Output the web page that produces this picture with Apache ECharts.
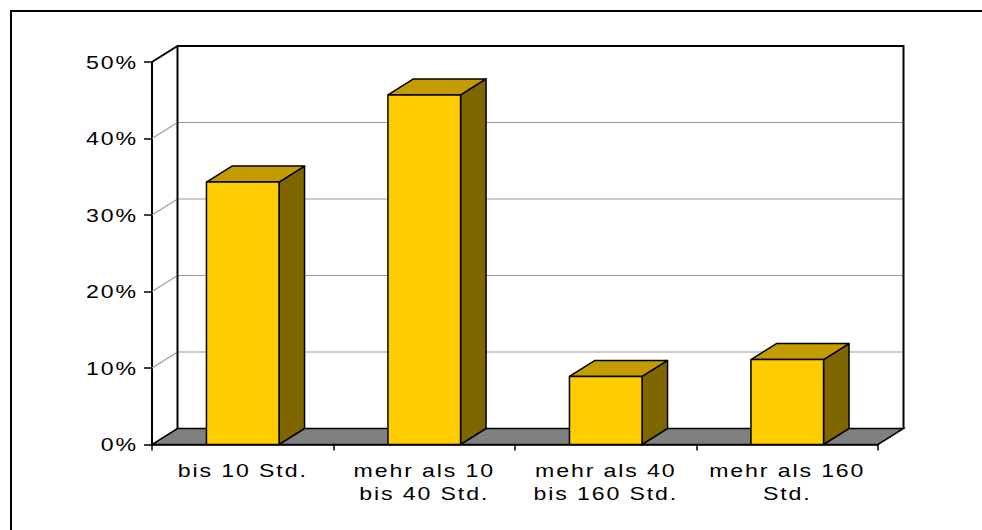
<!DOCTYPE html>
<html>
<head>
<meta charset="utf-8">
<script src="https://cdn.jsdelivr.net/npm/echarts@6/dist/echarts.min.js"></script>
<style>
  html, body { margin: 0; padding: 0; background: #ffffff; }
  #chart { width: 982px; height: 530px; }
  #chart text { letter-spacing: 1.5px; }
</style>
</head>
<body>
<div id="chart"></div>
<script>
// ---- data ----
const categories = ['bis 10 Std.', 'mehr als 10\nbis 40 Std.', 'mehr als 40\nbis 160 Std.', 'mehr als 160\nStd.'];
const shares = [34.3, 45.7, 8.9, 11.1];
const yTicks = [0, 10, 20, 30, 40, 50];

// ---- 3D look (style constants) ----
const DX = 25.5, DY = -16;
const BAR_RATIO = 0.4;
const FRONT = '#FFCC00', TOP = '#C49C00', SIDE = '#806600';
const LABEL_FONT = '18.5px "Liberation Sans", Arial, sans-serif';
const STRETCH = 1.25;

const chart = echarts.init(document.getElementById('chart'), null, { renderer: 'svg' });

function wallsItem(params, api) {
  const v = api.value(1);
  const cs = params.coordSys;
  const x0 = cs.x, x1 = cs.x + cs.width;
  const y = api.coord([0, v])[1];
  const yb = api.coord([0, 0])[1];
  const children = [];
  if (v === 0) {
    children.push({
      type: 'polygon',
      shape: { points: [[x0, yb], [x1, yb], [x1 + DX, yb + DY], [x0 + DX, yb + DY]] },
      style: { fill: '#808080', stroke: '#000', lineWidth: 1.5 }
    });
  } else if (v === 50) {
    children.push({
      type: 'polyline',
      shape: { points: [[x0, y], [x0 + DX, y + DY], [x1 + DX, y + DY], [x1 + DX, yb + DY]] },
      style: { fill: null, stroke: '#000', lineWidth: 2 }
    });
    children.push({
      type: 'line',
      shape: { x1: x0 + DX, y1: y + DY, x2: x0 + DX, y2: yb + DY },
      style: { stroke: '#000', lineWidth: 2 }
    });
  } else {
    children.push({
      type: 'polyline',
      shape: { points: [[x0, y], [x0 + DX, y + DY], [x1 + DX, y + DY]] },
      style: { fill: null, stroke: '#9a9a9a', lineWidth: 1.2 }
    });
  }
  // y-axis tick label (horizontally stretched like the original)
  children.push({
    type: 'text',
    x: x0 - 14, y: y, scaleX: STRETCH,
    style: { text: v + '%', x: 0, y: 0, align: 'right', verticalAlign: 'middle', font: LABEL_FONT, fill: '#000' }
  });
  return { type: 'group', children: children };
}

function catLabelItem(params, api) {
  const idx = api.value(0);
  const p = api.coord([idx, 0]);
  return {
    type: 'text',
    x: p[0], y: p[1] + 14, scaleX: STRETCH,
    style: { text: categories[idx], x: 0, y: 0, align: 'center', verticalAlign: 'top',
             font: LABEL_FONT, lineHeight: 23, fill: '#000' }
  };
}

function barItem(params, api) {
  const idx = api.value(0);
  const top = api.coord([idx, api.value(1)]);
  const base = api.coord([idx, 0]);
  const w = api.size([1, 0])[0] * BAR_RATIO;
  const xl = top[0] - w / 2, xr = top[0] + w / 2;
  const yt = top[1], yb = base[1];
  const st = { stroke: '#000', lineWidth: 1.5, lineJoin: 'round' };
  return {
    type: 'group',
    children: [
      { type: 'polygon', shape: { points: [[xr, yt], [xr + DX, yt + DY], [xr + DX, yb + DY], [xr, yb]] },
        style: Object.assign({ fill: SIDE }, st) },
      { type: 'polygon', shape: { points: [[xl, yt], [xr, yt], [xr + DX, yt + DY], [xl + DX, yt + DY]] },
        style: Object.assign({ fill: TOP }, st) },
      { type: 'rect', shape: { x: xl, y: yt, width: w, height: yb - yt },
        style: Object.assign({ fill: FRONT }, st) }
    ]
  };
}

chart.setOption({
  animation: false,
  backgroundColor: '#ffffff',
  graphic: [{
    type: 'polyline',
    shape: { points: [[11, 540], [11, 11], [990, 11]] },
    style: { fill: null, stroke: '#000', lineWidth: 2 },
    z: 100
  }],
  grid: { left: 152, top: 62, right: 104, bottom: 85.5 },
  xAxis: {
    type: 'category',
    data: categories,
    boundaryGap: true,
    axisLine: { show: true, lineStyle: { color: '#000', width: 1.5 } },
    axisTick: { show: true, length: 6, lineStyle: { color: '#000', width: 1.5 } },
    axisLabel: { show: false },
    splitLine: { show: false }
  },
  yAxis: {
    type: 'value',
    min: 0, max: 50, interval: 10,
    axisLine: { show: true, lineStyle: { color: '#000', width: 2 } },
    axisTick: { show: true, length: 8, lineStyle: { color: '#000', width: 1.5 } },
    axisLabel: { show: false },
    splitLine: { show: false }
  },
  series: [
    {
      type: 'custom',
      coordinateSystem: 'cartesian2d',
      renderItem: wallsItem,
      data: yTicks.map(v => [0, v]),
      encode: { x: 0, y: 1 },
      clip: false,
      silent: true,
      z: 1
    },
    {
      type: 'custom',
      coordinateSystem: 'cartesian2d',
      renderItem: catLabelItem,
      data: categories.map((c, i) => [i, 0]),
      encode: { x: 0, y: 1 },
      clip: false,
      silent: true,
      z: 1
    },
    {
      type: 'custom',
      coordinateSystem: 'cartesian2d',
      renderItem: barItem,
      data: shares.map((v, i) => [i, v]),
      encode: { x: 0, y: 1 },
      clip: false,
      z: 3
    }
  ]
});
</script>
</body>
</html>
